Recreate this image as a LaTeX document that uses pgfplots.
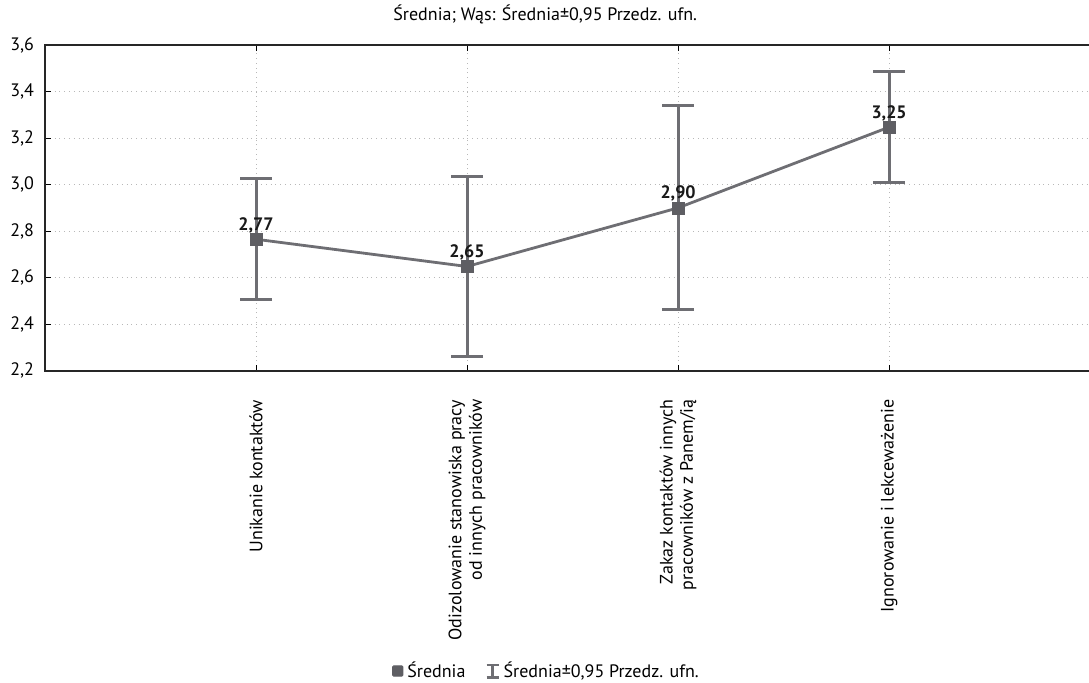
\documentclass[border=0pt]{standalone}
\usepackage{pgfplots}
\pgfplotsset{compat=1.18}
\usepackage{pgfplotstable}
\usepackage{fontspec}
\setmainfont{PT Sans}
\definecolor{lc}{HTML}{6E6E73}
\definecolor{mc}{HTML}{5E5E63}
\definecolor{gc}{HTML}{B8B8B8}
\pgfplotstableread{
x y err lab
0 2.765 0.261 2,77
1 2.648 0.385 2,65
2 2.900 0.438 2,90
3 3.247 0.238 3,25
}\data
\begin{document}
\begin{tikzpicture}
\useasboundingbox (-22.5pt,-155.65pt) rectangle (522pt,185.35pt);
\begin{axis}[
  at={(0,0)}, anchor=south west,
  scale only axis, width=530pt, height=162.85pt,
  xmin=-1, xmax=4.023, ymin=2.2, ymax=3.6,
  xtick={0,1,2,3},
  xticklabels={Unikanie kontaktów,{Odizolowanie stanowiska pracy\\od innych pracowników},{Zakaz kontaktów innych\\pracowników z Panem/ią},Ignorowanie i lekceważenie},
  xticklabel style={rotate=90, anchor=east, align=right, font=\fontsize{9}{10.2}\selectfont},
  xticklabel shift=11pt,
  ytick={2.2,2.4,...,3.61},
  yticklabel style={font=\fontsize{9}{10}\selectfont, /pgf/number format/.cd, use comma, fixed, fixed zerofill, precision=1, assume math mode=true},
  yticklabel shift=2pt,
  ytick pos=left,
  grid=major,
  major grid style={gc, dotted, line width=0.5pt},
  tick style={black, line width=0.5pt},
  major tick length=3pt,
  axis line style={draw=none},
  title={Średnia; Wąs: Średnia±0,95 Przedz. ufn.},
  title style={at={(0.4719,1)}, anchor=base, yshift=6.4pt, font=\fontsize{9}{10}\selectfont},
  legend style={at={(0.474,-0.922)}, anchor=center, draw=none, fill=none, legend columns=2, font=\fontsize{9}{10}\selectfont, /tikz/every even column/.append style={column sep=8pt}},
  clip=false,
]
\draw[black!85, line width=0.9pt] (rel axis cs:1,1) -- (rel axis cs:0,1) -- (rel axis cs:0,0) -- (rel axis cs:1,0);
\addplot[lc, line width=1.4pt, mark=square*, mark size=3pt, forget plot,
  mark options={fill=mc, draw=mc, line width=0.3pt},
  nodes near coords, point meta=explicit symbolic,
  every node near coord/.append style={font=\fontsize{9}{10}\selectfont\bfseries, black!90, anchor=south, inner sep=1pt, yshift=2pt},
  error bars/.cd, y dir=both, y explicit,
  error bar style={lc, line width=1.5pt},
  error mark options={lc, rotate=90, mark size=8pt, line width=1.5pt}]
  table[x=x, y=y, y error=err, meta=lab]{\data};
\addlegendimage{legend image code/.code={
  \fill[mc, rounded corners=0.6pt] (0.22cm,-2.6pt) rectangle ++(5.2pt,5.2pt);}}
\addlegendentry{Średnia}
\addlegendimage{legend image code/.code={
  \draw[lc, line width=1.3pt] (0.3cm,-3.2pt) -- (0.3cm,3.2pt);
  \draw[lc, line width=1.1pt] (0.3cm,-3.2pt) ++(-3pt,0) -- ++(6pt,0);
  \draw[lc, line width=1.1pt] (0.3cm,3.2pt) ++(-3pt,0) -- ++(6pt,0);}}
\addlegendentry{Średnia±0,95 Przedz. ufn.}
\end{axis}
\end{tikzpicture}
\end{document}
